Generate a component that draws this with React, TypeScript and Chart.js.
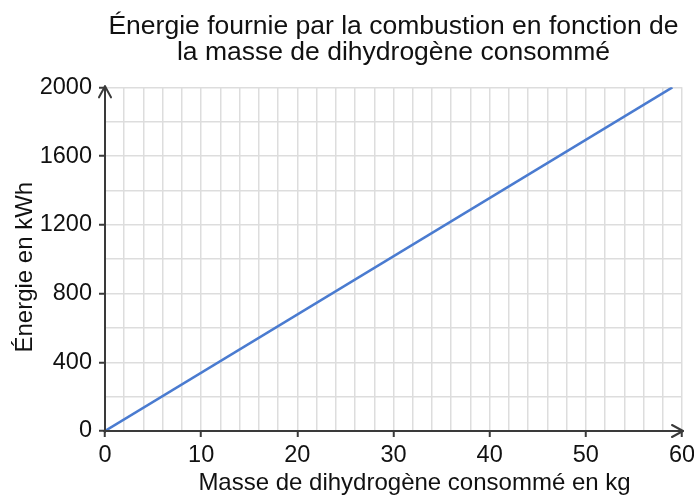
import React, { useEffect, useRef } from "react";
import { Chart, registerables } from "chart.js";

Chart.register(...registerables);

const titleLines = [
  "Énergie fournie par la combustion en fonction de",
  "la masse de dihydrogène consommé",
];
const xAxisTitle = "Masse de dihydrogène consommé en kg";
const yAxisTitle = "Énergie en kWh";
const massKg = [0, 59];
const energyKWh = [0, 2000];
const xMin = 0;
const xMax = 60;
const xGridStep = 2;
const xLabelStep = 10;
const yMin = 0;
const yMax = 2000;
const yGridStep = 200;
const yLabelStep = 400;

const FONT = "'Liberation Sans', Arial, sans-serif";
const TEXT = "#111111";
const GRID = "#dddddd";
const AXIS = "#3a3a3a";

const axesPlugin = {
  id: "arrowAxes",
  afterDatasetsDraw(chart: any) {
    const { ctx, scales, chartArea } = chart;
    const x = scales.x;
    const y = scales.y;
    const x0 = x.getPixelForValue(xMin);
    const x1 = x.getPixelForValue(xMax);
    const y0 = y.getPixelForValue(yMin);
    const y1 = y.getPixelForValue(yMax);
    ctx.save();
    ctx.strokeStyle = AXIS;
    ctx.lineWidth = 2;
    ctx.lineCap = "round";
    ctx.lineJoin = "round";
    // y axis
    ctx.beginPath();
    ctx.moveTo(x0, y0 + 1);
    ctx.lineTo(x0, y1 - 1);
    ctx.stroke();
    ctx.beginPath();
    ctx.moveTo(x0 - 6, y1 + 10);
    ctx.lineTo(x0, y1 - 1);
    ctx.lineTo(x0 + 6, y1 + 10);
    ctx.stroke();
    // x axis
    ctx.beginPath();
    ctx.moveTo(x0 - 1, y0);
    ctx.lineTo(x1 + 1, y0);
    ctx.stroke();
    ctx.beginPath();
    ctx.moveTo(x1 - 10, y0 - 6);
    ctx.lineTo(x1 + 1, y0);
    ctx.lineTo(x1 - 10, y0 + 6);
    ctx.stroke();

    // axis titles
    ctx.fillStyle = TEXT;
    ctx.font = `24px ${FONT}`;
    ctx.textAlign = "center";
    ctx.textBaseline = "alphabetic";
    const cx = (chartArea.left + chartArea.right) / 2 + 21;
    ctx.fillText(xAxisTitle, cx, chart.height - 9);
    const cy = (chartArea.top + chartArea.bottom) / 2 + 8;
    ctx.translate(32, cy);
    ctx.rotate(-Math.PI / 2);
    ctx.fillText(yAxisTitle, 0, 0);
    ctx.restore();
  },
};

export default function App() {
  const ref = useRef<HTMLCanvasElement>(null);
  useEffect(() => {
    if (!ref.current) return;
    const chart = new Chart(ref.current, {
      type: "line",
      data: {
        datasets: [
          {
            data: massKg.map((m, i) => ({ x: m, y: energyKWh[i] })),
            borderColor: "#4a7bd0",
            borderWidth: 2.5,
            pointRadius: 0,
            tension: 0,
          },
        ],
      },
      options: {
        animation: false,
        responsive: false,
        layout: { padding: { left: 0, right: 12, top: 0, bottom: 0 } },
        plugins: {
          legend: { display: false },
          tooltip: { enabled: false },
          title: {
            display: true,
            text: titleLines,
            fullSize: false,
            color: TEXT,
            font: { family: FONT, size: 26.5, weight: "normal", lineHeight: 0.95 },
            padding: { top: 14.5, bottom: 22.5 },
          },
        },
        scales: {
          x: {
            type: "linear",
            min: xMin,
            max: xMax,
            border: { display: false },
            grid: {
              color: GRID,
              lineWidth: 1.5,
              tickLength: 6,
              tickWidth: 2,
              tickColor: (c: any) =>
                c.tick && c.tick.value % xLabelStep === 0 ? AXIS : "rgba(0,0,0,0)",
            },
            ticks: {
              stepSize: xGridStep,
              autoSkip: false,
              maxRotation: 0,
              padding: 4,
              color: TEXT,
              font: { family: FONT, size: 23.5 },
              callback: (v: any) => (Number(v) % xLabelStep === 0 ? String(v) : ""),
            },
            afterFit: (s: any) => {
              s.height = 68;
              s.paddingLeft = 0;
              s.paddingRight = 0;
            },
          },
          y: {
            type: "linear",
            min: yMin,
            max: yMax,
            border: { display: false },
            grid: {
              color: GRID,
              lineWidth: 1.5,
              tickLength: 6,
              tickWidth: 2,
              tickColor: (c: any) =>
                c.tick && c.tick.value % yLabelStep === 0 ? AXIS : "rgba(0,0,0,0)",
            },
            ticks: {
              stepSize: yGridStep,
              autoSkip: false,
              padding: 7,
              color: TEXT,
              font: { family: FONT, size: 23.5 },
              callback: (v: any) => (Number(v) % yLabelStep === 0 ? String(v) : ""),
            },
            afterFit: (s: any) => {
              s.width = 105;
              s.paddingTop = 0;
              s.paddingBottom = 0;
            },
          },
        },
      } as any,
      plugins: [axesPlugin],
    });
    return () => chart.destroy();
  }, []);
  return (
    <div style={{ position: "fixed", left: 0, top: 0, width: 694, height: 499, background: "#fff" }}>
      <canvas ref={ref} width={694} height={499} style={{ display: "block" }} />
    </div>
  );
}
